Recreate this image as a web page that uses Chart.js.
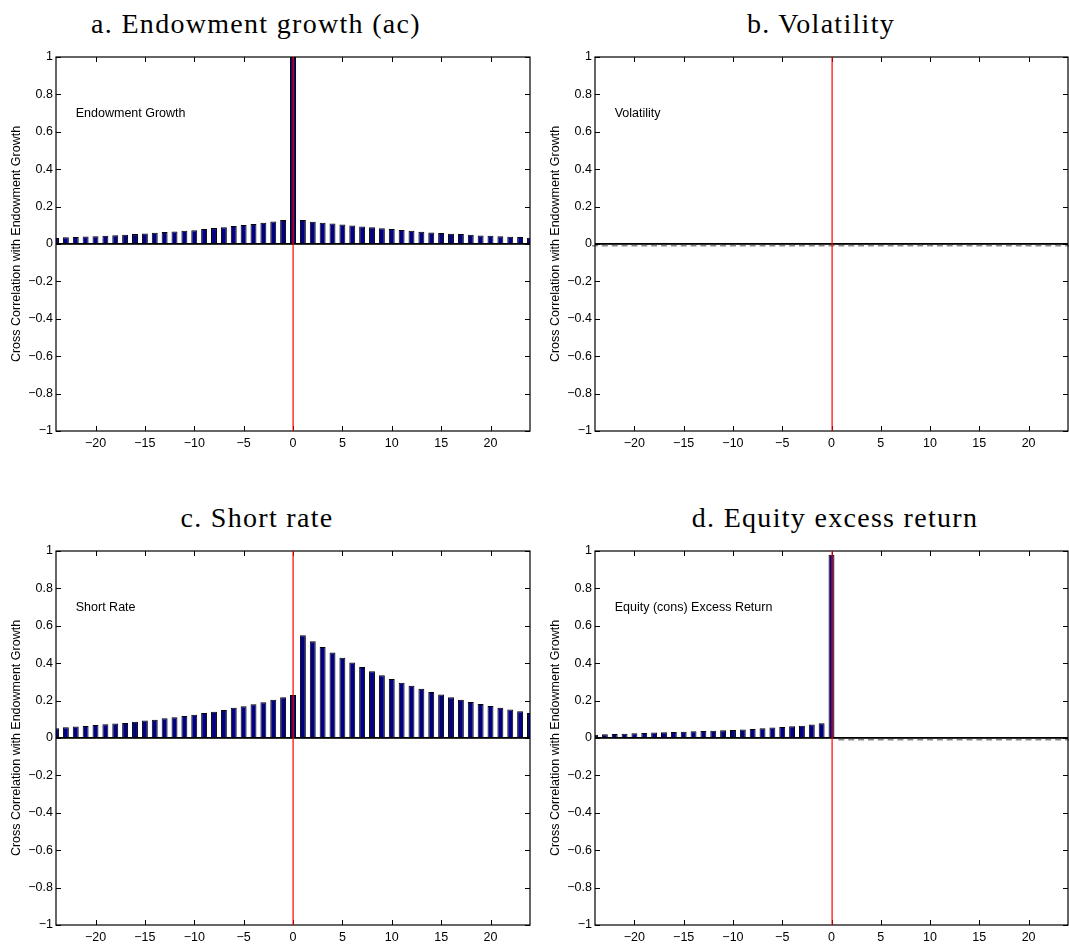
<!DOCTYPE html>
<html>
<head>
<meta charset="utf-8">
<script src="https://cdn.jsdelivr.net/npm/chart.js@4.4.1/dist/chart.umd.min.js"></script>
<style>
  html, body { margin: 0; padding: 0; background: #fff; overflow: hidden; }
  .panel { position: absolute; }
  .title {
    position: absolute;
    font-family: "Liberation Serif", serif;
    font-size: 28px;
    line-height: 28px;
    letter-spacing: 1.3px;
    white-space: nowrap;
    transform: translateX(-50%);
    color: #000;
  }
</style>
</head>
<body>
<div class="title" style="left:256px; top:10px">a. Endowment growth (ac)</div>
<div class="title" style="left:821px; top:10px">b. Volatility</div>
<div class="title" style="left:257px; top:504px">c. Short rate</div>
<div class="title" style="left:835px; top:504px">d. Equity excess return</div>

<canvas class="panel" id="chartA" width="540" height="417" style="left:0; top:40px"></canvas>
<canvas class="panel" id="chartB" width="530" height="417" style="left:539px; top:40px"></canvas>
<canvas class="panel" id="chartC" width="540" height="417" style="left:0; top:534px"></canvas>
<canvas class="panel" id="chartD" width="530" height="417" style="left:539px; top:534px"></canvas>

<script>
// lags -24 ... 24
const lags = [-24, -23, -22, -21, -20, -19, -18, -17, -16, -15, -14, -13, -12, -11, -10, -9, -8, -7, -6, -5, -4, -3, -2, -1,
  0, 1, 2, 3, 4, 5, 6, 7, 8, 9, 10, 11, 12, 13, 14, 15, 16, 17, 18, 19, 20, 21, 22, 23, 24];

// a. Endowment growth (autocorrelation)
const growthVals = [0.032, 0.036, 0.038, 0.040, 0.042, 0.044, 0.047, 0.049, 0.053, 0.056, 0.060, 0.064, 0.067, 0.071, 0.074, 0.080, 0.085, 0.090, 0.096, 0.102, 0.107, 0.114, 0.120, 0.128,
  1.000, 0.128, 0.119, 0.114, 0.109, 0.104, 0.099, 0.094, 0.089, 0.084, 0.080, 0.075, 0.071, 0.066, 0.062, 0.059, 0.055, 0.053, 0.050, 0.046, 0.044, 0.041, 0.039, 0.037, 0.034];

// b. Volatility
const volVals = [0, 0, 0, 0, 0, 0, 0, 0, 0, 0, 0, 0, 0, 0, 0, 0, 0, 0, 0, 0, 0, 0, 0, 0,
  0, 0, 0, 0, 0, 0, 0, 0, 0, 0, 0, 0, 0, 0, 0, 0, 0, 0, 0, 0, 0, 0, 0, 0, 0];

// c. Short rate
const rateVals = [0.052, 0.057, 0.061, 0.064, 0.070, 0.073, 0.077, 0.080, 0.087, 0.093, 0.098, 0.105, 0.111, 0.118, 0.125, 0.134, 0.141, 0.150, 0.162, 0.170, 0.180, 0.191, 0.205, 0.218,
  0.230, 0.550, 0.518, 0.486, 0.457, 0.429, 0.404, 0.380, 0.357, 0.336, 0.316, 0.296, 0.279, 0.264, 0.246, 0.232, 0.218, 0.205, 0.193, 0.182, 0.171, 0.162, 0.152, 0.143, 0.134];

// d. Equity excess return
const equityVals = [0.018, 0.020, 0.022, 0.023, 0.025, 0.027, 0.029, 0.031, 0.032, 0.034, 0.036, 0.038, 0.039, 0.041, 0.043, 0.045, 0.048, 0.052, 0.056, 0.059, 0.063, 0.066, 0.072, 0.079,
  0.980, 0, 0, 0, 0, 0, 0, 0, 0, 0, 0, 0, 0, 0, 0, 0, 0, 0, 0, 0, 0, 0, 0, 0, 0];

const yTitle = 'Cross Correlation with Endowment Growth';
const notePos = { x: -22, y: 0.7 };
const sans = '"Liberation Sans", Arial, sans-serif';

function fmtX(v) {
    return v < 0 ? '\u2212' + Math.abs(v) : String(v);
}

function fmtY(v) {
    const r = Math.round(v * 10) / 10;
    if (r === 0) return '0';
    return r < 0 ? '\u2212' + Math.abs(r) : String(r);
}

// box, inward ticks, zero line, red lag-0 line, label text
const framePlugin = {
    id: 'frame',
    afterDatasetsDraw(chart, args, opts) {
        const {ctx, chartArea: a, scales: {x, y}} = chart;
        const y0 = y.getPixelForValue(0);
        const x0 = x.getPixelForValue(0);
        const values = chart.data.datasets[0].data;
        ctx.save();

        // flat edges of the zero height bars
        ctx.fillStyle = '#8a8a8a';
        chart.getDatasetMeta(0).data.forEach((bar, i) => {
            if (values[i].y !== 0) return;
            ctx.fillRect(bar.x - bar.width / 2, y0 + 1, bar.width, 1.5);
        });

        // zero line
        ctx.fillStyle = '#000';
        ctx.fillRect(a.left, y0 - 1, a.width, 1.8);

        // box
        ctx.strokeStyle = '#000';
        ctx.lineWidth = 1.2;
        ctx.strokeRect(a.left, a.top, a.width, a.height);

        // inward ticks
        ctx.lineWidth = 1;
        ctx.beginPath();
        x.ticks.forEach(t => {
            const px = Math.round(x.getPixelForValue(t.value)) + 0.5;
            ctx.moveTo(px, a.bottom); ctx.lineTo(px, a.bottom - 5);
            ctx.moveTo(px, a.top); ctx.lineTo(px, a.top + 5);
        });
        y.ticks.forEach(t => {
            const py = Math.round(y.getPixelForValue(t.value)) + 0.5;
            ctx.moveTo(a.left, py); ctx.lineTo(a.left + 5, py);
            ctx.moveTo(a.right, py); ctx.lineTo(a.right - 5, py);
        });
        ctx.stroke();

        // red line at lag 0
        ctx.fillStyle = '#ff0000';
        ctx.fillRect(Math.round(x0) - 0.5, a.top, 1.2, a.height);

        ctx.fillStyle = '#000';
        ctx.font = '12.5px ' + sans;
        ctx.textAlign = 'left';
        ctx.textBaseline = 'middle';
        ctx.fillText(opts.text, x.getPixelForValue(notePos.x), y.getPixelForValue(notePos.y));
        ctx.restore();
    }
};

function makeChart(id, values, note, rightPad) {
    const font = { family: sans, size: 12.5 };
    new Chart(document.getElementById(id), {
        type: 'bar',
        data: {
            datasets: [{
                data: lags.map((l, i) => ({ x: l, y: values[i] })),
                backgroundColor: '#000080',
                borderColor: '#000',
                borderWidth: 1,
                barPercentage: 0.6,
                categoryPercentage: 1
            }]
        },
        options: {
            responsive: false,
            animation: false,
            layout: { padding: { top: 17, right: rightPad, bottom: 0, left: 0 } },
            plugins: {
                legend: { display: false },
                tooltip: { enabled: false },
                frame: { text: note }
            },
            scales: {
                x: {
                    type: 'linear',
                    min: -24,
                    max: 24,
                    offset: false,
                    grid: { display: false, drawTicks: false, offset: false },
                    border: { display: false },
                    ticks: { stepSize: 5, includeBounds: false, padding: 5, color: '#000', font: font, callback: fmtX, maxRotation: 0 },
                    afterFit: s => { s.height = 26; }
                },
                y: {
                    min: -1,
                    max: 1,
                    grid: { display: false, drawTicks: false },
                    border: { display: false },
                    ticks: { stepSize: 0.2, padding: 3, color: '#000', font: font, callback: fmtY },
                    title: { display: true, text: yTitle, color: '#000', font: font, padding: { top: 9, bottom: 0 } },
                    afterFit: s => { s.width = 56; }
                }
            }
        },
        plugins: [framePlugin]
    });
}

makeChart('chartA', growthVals, 'Endowment Growth', 10);
makeChart('chartB', volVals, 'Volatility', 1);
makeChart('chartC', rateVals, 'Short Rate', 10);
makeChart('chartD', equityVals, 'Equity (cons) Excess Return', 1);
</script>
</body>
</html>
